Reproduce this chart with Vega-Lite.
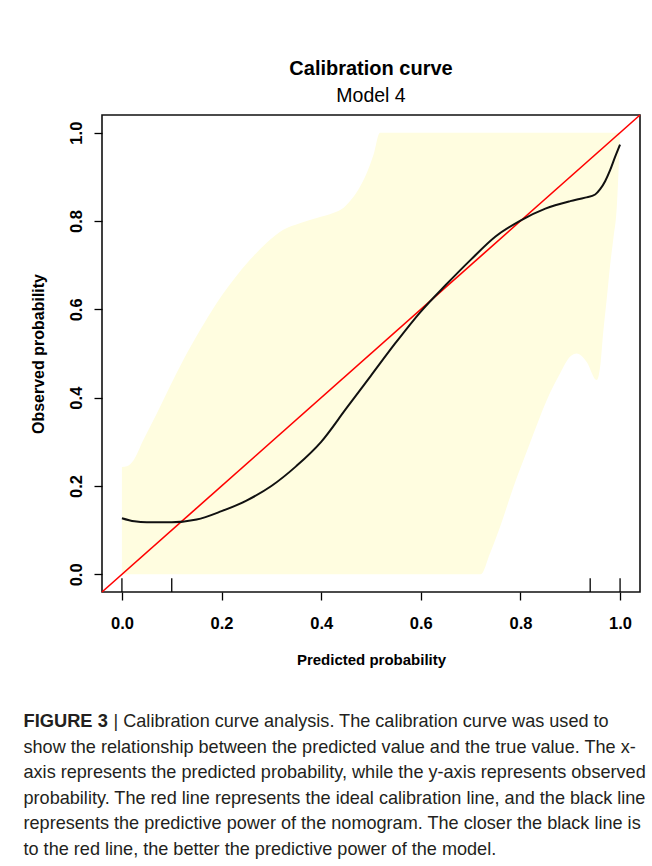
{
  "$schema": "https://vega.github.io/schema/vega-lite/v6.json",
  "width": 538,
  "height": 477,
  "autosize": {"type": "none"},
  "padding": {"left": 102, "top": 115, "right": 12, "bottom": 274},
  "background": "white",
  "title": {
    "text": "Calibration curve",
    "subtitle": "Model 4",
    "anchor": "middle",
    "font": "Liberation Sans",
    "fontSize": 20,
    "fontWeight": "bold",
    "color": "#000",
    "subtitleFont": "Liberation Sans",
    "subtitleFontSize": 19.5,
    "subtitleColor": "#000",
    "subtitlePadding": 8,
    "offset": 6
  },
  "config": {
    "view": {"stroke": "#111", "strokeWidth": 1.6},
    "axis": {"grid": false}
  },
  "datasets": {
    "band": [
      {"x": 0.0, "lo": 0, "hi": 0.243},
      {"x": 0.01, "lo": 0, "hi": 0.245},
      {"x": 0.023, "lo": 0, "hi": 0.258},
      {"x": 0.043, "lo": 0, "hi": 0.304},
      {"x": 0.07, "lo": 0, "hi": 0.364},
      {"x": 0.096, "lo": 0, "hi": 0.425},
      {"x": 0.123, "lo": 0, "hi": 0.485},
      {"x": 0.157, "lo": 0, "hi": 0.553},
      {"x": 0.19, "lo": 0, "hi": 0.614},
      {"x": 0.224, "lo": 0, "hi": 0.667},
      {"x": 0.257, "lo": 0, "hi": 0.712},
      {"x": 0.29, "lo": 0, "hi": 0.75},
      {"x": 0.324, "lo": 0, "hi": 0.78},
      {"x": 0.357, "lo": 0, "hi": 0.795},
      {"x": 0.391, "lo": 0, "hi": 0.807},
      {"x": 0.424, "lo": 0, "hi": 0.818},
      {"x": 0.445, "lo": 0, "hi": 0.83},
      {"x": 0.46, "lo": 0, "hi": 0.848},
      {"x": 0.475, "lo": 0, "hi": 0.872},
      {"x": 0.49, "lo": 0, "hi": 0.905},
      {"x": 0.505, "lo": 0, "hi": 0.95},
      {"x": 0.518, "lo": 0, "hi": 1.0},
      {"x": 0.72, "lo": 0, "hi": 1.0},
      {"x": 0.739, "lo": 0.048, "hi": 1.0},
      {"x": 0.759, "lo": 0.107, "hi": 1.0},
      {"x": 0.786, "lo": 0.198, "hi": 1.0},
      {"x": 0.819, "lo": 0.297, "hi": 1.0},
      {"x": 0.853, "lo": 0.395, "hi": 1.0},
      {"x": 0.88, "lo": 0.456, "hi": 1.0},
      {"x": 0.9, "lo": 0.493, "hi": 1.0},
      {"x": 0.913, "lo": 0.5, "hi": 1.0},
      {"x": 0.933, "lo": 0.481, "hi": 1.0},
      {"x": 0.953, "lo": 0.44, "hi": 1.0},
      {"x": 0.96, "lo": 0.47, "hi": 1.0},
      {"x": 0.966, "lo": 0.546, "hi": 1.0},
      {"x": 0.973, "lo": 0.621, "hi": 1.0},
      {"x": 0.98, "lo": 0.7, "hi": 1.0},
      {"x": 0.987, "lo": 0.765, "hi": 1.0},
      {"x": 0.993, "lo": 0.825, "hi": 1.0},
      {"x": 1.0, "lo": 1.0, "hi": 1.0}
    ],
    "ideal": [
      {"x": -0.04, "y": -0.04},
      {"x": 1.04, "y": 1.04}
    ],
    "curve": [
      {"x": 0.0, "y": 0.127},
      {"x": 0.025, "y": 0.12},
      {"x": 0.05, "y": 0.118},
      {"x": 0.1, "y": 0.118},
      {"x": 0.15, "y": 0.124},
      {"x": 0.2, "y": 0.143},
      {"x": 0.25, "y": 0.167},
      {"x": 0.3, "y": 0.2},
      {"x": 0.35, "y": 0.245},
      {"x": 0.4, "y": 0.3},
      {"x": 0.45, "y": 0.375},
      {"x": 0.5, "y": 0.45},
      {"x": 0.55, "y": 0.525},
      {"x": 0.6, "y": 0.595},
      {"x": 0.65, "y": 0.655},
      {"x": 0.7, "y": 0.712},
      {"x": 0.75, "y": 0.765},
      {"x": 0.8, "y": 0.801},
      {"x": 0.85, "y": 0.828},
      {"x": 0.9, "y": 0.845},
      {"x": 0.93, "y": 0.853},
      {"x": 0.95, "y": 0.86},
      {"x": 0.96, "y": 0.872},
      {"x": 0.97, "y": 0.89},
      {"x": 0.98, "y": 0.915},
      {"x": 0.99, "y": 0.945},
      {"x": 1.0, "y": 0.973}
    ],
    "rug": [
      {"x": 0.0},
      {"x": 0.1},
      {"x": 0.94},
      {"x": 1.0}
    ]
  },
  "layer": [
    {
      "data": {"name": "band"},
      "mark": {"type": "area", "color": "#FFFDE0", "opacity": 1, "interpolate": "monotone"},
      "encoding": {
        "x": {
          "field": "x", "type": "quantitative",
          "scale": {"domain": [-0.04, 1.04], "nice": false, "zero": false},
          "axis": {
            "values": [0, 0.2, 0.4, 0.6, 0.8, 1.0],
            "format": ".1f",
            "domain": false,
            "tickColor": "#000", "tickSize": 8, "tickWidth": 1.3,
            "labelFont": "Liberation Sans", "labelFontSize": 16.5, "labelFontWeight": "bold", "labelColor": "#000",
            "labelPadding": 15,
            "title": "Predicted probability",
            "titleFont": "Liberation Sans", "titleFontSize": 15, "titleFontWeight": "bold", "titleColor": "#000",
            "titlePadding": 21
          }
        },
        "y": {
          "field": "lo", "type": "quantitative",
          "scale": {"domain": [-0.04, 1.04], "nice": false, "zero": false},
          "axis": {
            "values": [0, 0.2, 0.4, 0.6, 0.8, 1.0],
            "format": ".1f",
            "domain": false,
            "tickColor": "#000", "tickSize": 8, "tickWidth": 1.3,
            "labelFont": "Liberation Sans", "labelFontSize": 16.5, "labelFontWeight": "bold", "labelColor": "#000",
            "labelAngle": 270, "labelAlign": "center", "labelBaseline": "bottom",
            "labelPadding": 10,
            "title": "Observed probability",
            "titleFont": "Liberation Sans", "titleFontSize": 16, "titleFontWeight": "bold", "titleColor": "#000",
            "titlePadding": 22
          }
        },
        "y2": {"field": "hi"}
      }
    },
    {
      "data": {"name": "ideal"},
      "mark": {"type": "line", "color": "#FF0000", "strokeWidth": 1.6},
      "encoding": {
        "x": {
          "field": "x", "type": "quantitative",
          "axis": {
            "orient": "bottom",
            "domain": false, "ticks": false, "labels": false,
            "title": "| Calibration curve analysis. The calibration curve was used to",
            "titleFont": "Liberation Sans", "titleFontSize": 18.1, "titleFontWeight": "normal", "titleColor": "#231f20",
            "titleAnchor": "start", "titleAlign": "left", "titleBaseline": "middle",
            "titleX": 11, "titleY": 129
          }
        },
        "y": {"field": "y", "type": "quantitative", "axis": null}
      }
    },
    {
      "data": {"name": "curve"},
      "mark": {"type": "line", "color": "#111", "strokeWidth": 2, "interpolate": "monotone"},
      "encoding": {
        "x": {
          "field": "x", "type": "quantitative",
          "axis": {
            "orient": "bottom",
            "domain": false, "ticks": false, "labels": false,
            "title": [
              "show the relationship between the predicted value and the true value. The x-",
              "axis represents the predicted probability, while the y-axis represents observed",
              "probability. The red line represents the ideal calibration line, and the black line",
              "represents the predictive power of the nomogram. The closer the black line is",
              "to the red line, the better the predictive power of the model."
            ],
            "titleFont": "Liberation Sans", "titleFontSize": 18.1, "titleFontWeight": "normal", "titleColor": "#231f20",
            "titleAnchor": "start", "titleAlign": "left", "titleBaseline": "middle",
            "titleLineHeight": 25.6,
            "titleX": -79, "titleY": 155
          }
        },
        "y": {"field": "y", "type": "quantitative", "axis": null}
      }
    },
    {
      "data": {"name": "rug"},
      "mark": {"type": "rule", "color": "#000", "strokeWidth": 1.3},
      "encoding": {
        "x": {"field": "x", "type": "quantitative", "axis": null},
        "y": {
          "datum": -0.04, "type": "quantitative",
          "axis": {
            "orient": "right",
            "domain": false, "ticks": false, "labels": false,
            "title": "FIGURE 3",
            "titleFont": "Liberation Sans", "titleFontSize": 18.3, "titleFontWeight": "bold", "titleColor": "#231f20",
            "titleAngle": 0, "titleAnchor": "start", "titleAlign": "left", "titleBaseline": "middle",
            "titleX": -617, "titleY": 606
          }
        },
        "y2": {"datum": -0.009}
      }
    }
  ],
  "resolve": {"axis": {"x": "independent", "y": "independent"}}
}
